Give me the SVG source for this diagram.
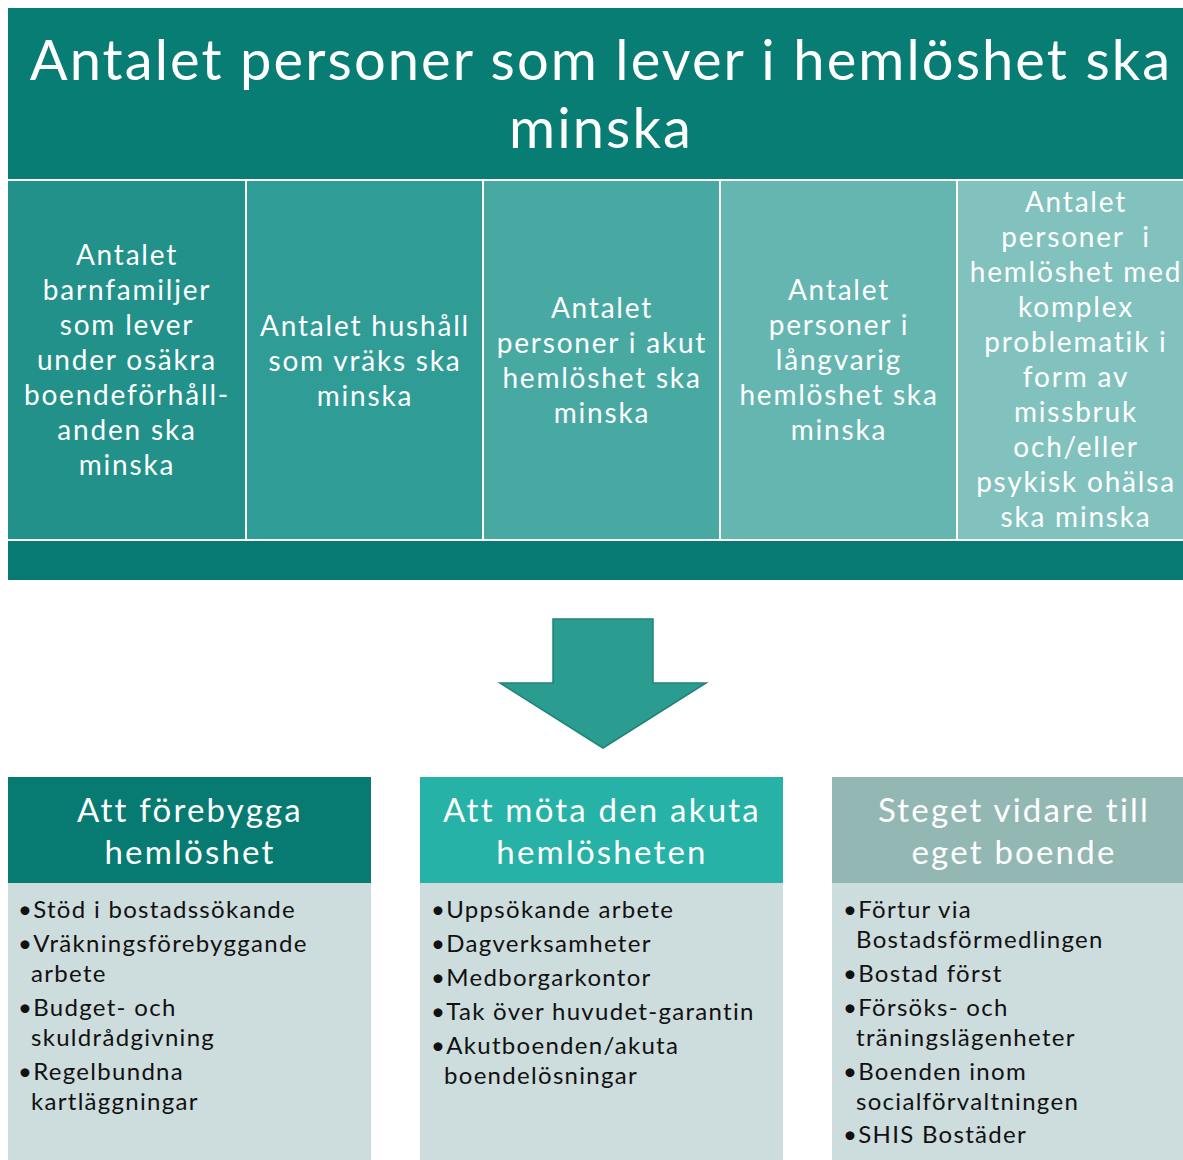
<svg xmlns="http://www.w3.org/2000/svg" width="1183" height="1160" viewBox="0 0 1183 1160">
<style>
.t{font-family:Lato,"Open Sans",sans-serif;fill:#ffffff;text-anchor:middle}
.title{font-size:56px;letter-spacing:2.1px}
.col{font-size:28px;letter-spacing:1.8px}
.hd{font-size:33px;letter-spacing:2.2px}
.b{font-family:Lato,"Open Sans",sans-serif;font-size:24px;letter-spacing:1.3px;fill:#111111}
.sep{stroke:#ffffff;stroke-width:2}
</style>
<rect width="1183" height="1160" fill="#ffffff"/>
<g id="goal">
<rect x="8" y="8" width="1175" height="171" fill="#077d74"/>
<text class="t title" x="601" y="80">Antalet personer som lever i hemlöshet ska</text>
<text class="t title" x="601" y="148">minska</text>
</g>
<g id="col1">
<rect x="8" y="180" width="238" height="360" fill="#21918a"/>
<text class="t col"><tspan x="127" y="265">Antalet</tspan><tspan x="127" y="300">barnfamiljer</tspan><tspan x="127" y="335">som lever</tspan><tspan x="127" y="370">under osäkra</tspan><tspan x="127" y="405">boendeförhåll-</tspan><tspan x="127" y="440">anden ska</tspan><tspan x="127" y="475">minska</tspan></text>
</g>
<g id="col2">
<rect x="246" y="180" width="237" height="360" fill="#309c96"/>
<text class="t col"><tspan x="365" y="336">Antalet hushåll</tspan><tspan x="365" y="371">som vräks ska</tspan><tspan x="365" y="406">minska</tspan></text>
</g>
<g id="col3">
<rect x="483" y="180" width="237" height="360" fill="#48a9a3"/>
<text class="t col"><tspan x="602" y="318">Antalet</tspan><tspan x="602" y="353">personer i akut</tspan><tspan x="602" y="388">hemlöshet ska</tspan><tspan x="602" y="423">minska</tspan></text>
</g>
<g id="col4">
<rect x="720" y="180" width="237" height="360" fill="#65b6b0"/>
<text class="t col"><tspan x="839" y="300">Antalet</tspan><tspan x="839" y="335">personer i</tspan><tspan x="839" y="370">långvarig</tspan><tspan x="839" y="405">hemlöshet ska</tspan><tspan x="839" y="440">minska</tspan></text>
</g>
<g id="col5">
<rect x="957" y="180" width="226" height="360" fill="#82c2be"/>
<text class="t col"><tspan x="1076" y="212">Antalet</tspan><tspan x="1076" y="247">personer&#160; i</tspan><tspan x="1076" y="282">hemlöshet med</tspan><tspan x="1076" y="317">komplex</tspan><tspan x="1076" y="352">problematik i</tspan><tspan x="1076" y="387">form av</tspan><tspan x="1076" y="422">missbruk</tspan><tspan x="1076" y="457">och/eller</tspan><tspan x="1076" y="492">psykisk ohälsa</tspan><tspan x="1076" y="527">ska minska</tspan></text>
</g>
<g id="separators">
<line class="sep" x1="8" y1="180" x2="1183" y2="180"/>
<line class="sep" x1="246" y1="180" x2="246" y2="540"/>
<line class="sep" x1="483" y1="180" x2="483" y2="540"/>
<line class="sep" x1="720" y1="180" x2="720" y2="540"/>
<line class="sep" x1="957" y1="180" x2="957" y2="540"/>
<line class="sep" x1="8" y1="540" x2="1183" y2="540"/>
</g>
<g id="bar">
<rect x="8" y="541" width="1175" height="39" fill="#077b73"/>
</g>
<g id="connectors">
<polygon points="553,619 653,619 653,683 706,683 603,748 500,683 553,683" fill="#2a9c90" stroke="#1f8378" stroke-width="1.5"/>
</g>
<g id="box1">
<rect x="8" y="777" width="363" height="106" fill="#077b72"/>
<rect x="8" y="883" width="363" height="277" fill="#cddcdc"/>
<text class="t hd"><tspan x="190" y="822">Att förebygga</tspan><tspan x="190" y="864">hemlöshet</tspan></text>
<text class="b"><tspan x="18" y="918">•Stöd i bostadssökande</tspan><tspan x="18" y="952">•Vräkningsförebyggande</tspan><tspan x="31" y="982">arbete</tspan><tspan x="18" y="1016">•Budget- och</tspan><tspan x="31" y="1046">skuldrådgivning</tspan><tspan x="18" y="1080">•Regelbundna</tspan><tspan x="31" y="1110">kartläggningar</tspan></text>
</g>
<g id="box2">
<rect x="420" y="777" width="363" height="106" fill="#26b2a6"/>
<rect x="420" y="883" width="363" height="277" fill="#cddcdc"/>
<text class="t hd"><tspan x="602" y="822">Att möta den akuta</tspan><tspan x="602" y="864">hemlösheten</tspan></text>
<text class="b"><tspan x="431" y="918">•Uppsökande arbete</tspan><tspan x="431" y="952">•Dagverksamheter</tspan><tspan x="431" y="986">•Medborgarkontor</tspan><tspan x="431" y="1020">•Tak över huvudet-garantin</tspan><tspan x="431" y="1054">•Akutboenden/akuta</tspan><tspan x="444" y="1084">boendelösningar</tspan></text>
</g>
<g id="box3">
<rect x="832" y="777" width="351" height="106" fill="#93b7b3"/>
<rect x="832" y="883" width="351" height="277" fill="#cddcdc"/>
<text class="t hd"><tspan x="1014" y="822">Steget vidare till</tspan><tspan x="1014" y="864">eget boende</tspan></text>
<text class="b"><tspan x="843" y="918">•Förtur via</tspan><tspan x="856" y="948">Bostadsförmedlingen</tspan><tspan x="843" y="982">•Bostad först</tspan><tspan x="843" y="1016">•Försöks- och</tspan><tspan x="856" y="1046">träningslägenheter</tspan><tspan x="843" y="1080">•Boenden inom</tspan><tspan x="856" y="1110">socialförvaltningen</tspan><tspan x="843" y="1143">•SHIS Bostäder</tspan></text>
</g>
</svg>
